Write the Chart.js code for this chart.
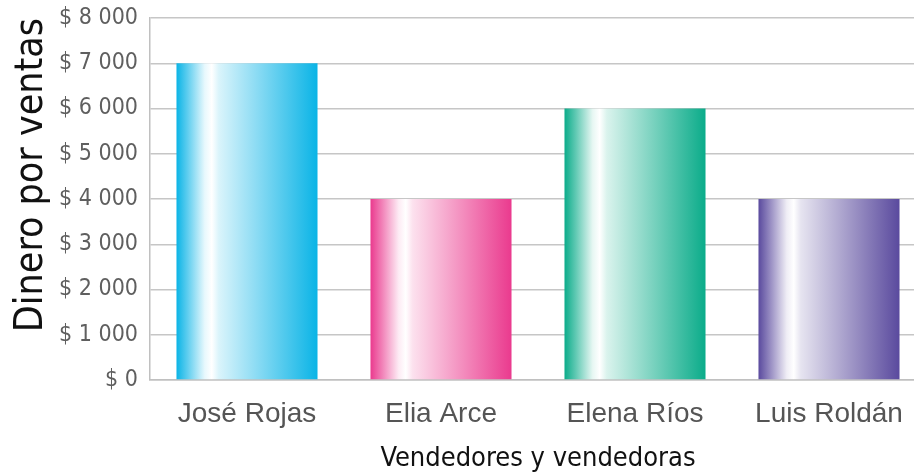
<!DOCTYPE html>
<html>
<head>
<meta charset="utf-8">
<script src="https://cdn.jsdelivr.net/npm/chart.js@4"></script>
<style>
html,body{margin:0;padding:0;background:#fff;overflow:hidden;}
#wrap{width:914px;height:475px;position:relative;overflow:hidden;}
</style>
</head>
<body>
<div id="wrap"><canvas id="c" width="926" height="475"></canvas></div>
<script>
const categories = ['José Rojas', 'Elia Arce', 'Elena Ríos', 'Luis Roldán'];
const sales = [7000, 4000, 6000, 4000];
const barColors = ['#0ab4e6', '#ea3a8e', '#0bac8a', '#5a4a9e'];
const yTickLabels = ['$ 0', '$ 1 000', '$ 2 000', '$ 3 000', '$ 4 000', '$ 5 000', '$ 6 000', '$ 7 000', '$ 8 000'];
const yTitle = 'Dinero por ventas';
const xTitle = 'Vendedores y vendedoras';

const FONT = '"DejaVu Sans Condensed", "Liberation Sans Narrow", sans-serif';
const FONT_X = '"Liberation Sans", Arial, sans-serif';

function hexToRgb(h){const n=parseInt(h.slice(1),16);return [(n>>16)&255,(n>>8)&255,n&255];}
function mix(c,t){const [r,g,b]=hexToRgb(c);const m=v=>Math.round(v+(255-v)*t);return `rgb(${m(r)},${m(g)},${m(b)})`;}

const BAR_PCT = 0.727;
function barGradient(context){
  const chart = context.chart;
  const xs = chart.scales.x;
  const col = barColors[context.dataIndex % barColors.length];
  if(!xs || !chart.chartArea) return col;
  const cx = xs.getPixelForValue(context.dataIndex);
  const w = (xs.width / categories.length) * BAR_PCT;
  const x0 = cx - w/2, x1 = cx + w/2;
  const g = chart.ctx.createLinearGradient(x0, 0, x1, 0);
  g.addColorStop(0, col);
  g.addColorStop(0.08, mix(col,0.35));
  g.addColorStop(0.2, mix(col,0.9));
  g.addColorStop(0.25, '#ffffff');
  g.addColorStop(0.3, mix(col,0.85));
  g.addColorStop(0.55, mix(col,0.55));
  g.addColorStop(1, col);
  return g;
}

new Chart(document.getElementById('c'), {
  type: 'bar',
  data: {
    labels: categories,
    datasets: [{
      data: sales,
      backgroundColor: barGradient,
      borderWidth: 0,
      categoryPercentage: 1,
      barPercentage: BAR_PCT
    }]
  },
  options: {
    responsive: false,
    animation: false,
    devicePixelRatio: 1,
    layout: { padding: { top: 18, right: 0, left: 0, bottom: 0 } },
    plugins: { legend: { display: false }, tooltip: { enabled: false } },
    scales: {
      y: {
        min: 0, max: 8000,
        ticks: {
          stepSize: 1000,
          padding: 12,
          color: '#5f5f5f',
          font: { family: FONT, size: 23 },
          callback: (v) => yTickLabels[Math.round(v/1000)]
        },
        grid: { color: '#c6c6c6', lineWidth: 1.5, drawTicks: false },
        border: { color: '#c0c0c0', width: 1.5 },
        title: {
          display: true, text: yTitle, align: 'end',
          color: '#111111',
          font: { family: FONT, size: 39 },
          padding: { top: 8, bottom: 0 }
        },
        afterFit: (s) => { s.width = 150; s.paddingTop = 0; s.paddingBottom = 0; }
      },
      x: {
        ticks: {
          padding: 17,
          color: '#555555',
          font: { family: FONT_X, size: 28 }
        },
        grid: { display: false, drawTicks: false },
        border: { color: '#c0c0c0', width: 1.5 },
        title: {
          display: true, text: xTitle,
          color: '#111111',
          font: { family: FONT, size: 27 },
          padding: { top: 14, bottom: 0 }
        },
        afterFit: (s) => { s.height = 95; }
      }
    }
  }
});
</script>
</body>
</html>
